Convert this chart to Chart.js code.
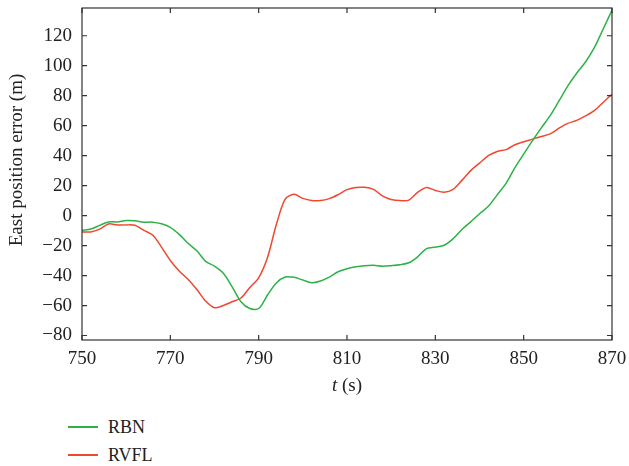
<!DOCTYPE html>
<html>
<head>
<meta charset="utf-8">
<script src="https://cdn.jsdelivr.net/npm/chart.js@4"></script>
<style>
  body { margin: 0; background: #fff; }
  #wrap { position: relative; width: 629px; height: 466px; }
  #myChart { position: absolute; left: 0; top: 0; }
  .legline { position: absolute; left: 68px; width: 30px; height: 1.5px; }
  .legtext { position: absolute; left: 108px; font: 18px "Liberation Serif", serif; color: #222; line-height: 20px; }
</style>
</head>
<body>
<div id="wrap">
  <canvas id="myChart" width="629" height="400"></canvas>
  <div class="legline" style="top:426px;background:rgb(44,178,70)"></div>
  <div class="legtext" style="top:417px">RBN</div>
  <div class="legline" style="top:454px;background:rgb(240,72,46)"></div>
  <div class="legtext" style="top:445px">RVFL</div>
</div>
<script>
// time stamps (s)
const times = [750,752,754,756,758,760,762,764,766,768,770,772,774,776,778,780,782,784,786,788,
790,792,794,796,798,800,802,804,806,808,810,812,814,816,818,820,822,824,826,828,
830,832,834,836,838,840,842,844,846,848,850,852,854,856,858,860,862,864,866,868,870];

// east position error (m)
const rbn = [-9.8,-9,-6.5,-4.2,-4.2,-3.3,-3.5,-4.4,-4.4,-5.5,-7.8,-12.5,-18.5,-23.5,-30.5,-33.7,-38.5,-47.5,-57.5,-62,
-62,-53,-45,-41,-41.2,-43,-44.8,-43.6,-41,-37.5,-35.4,-34.2,-33.4,-33.1,-33.8,-33.4,-32.8,-31.5,-27.5,-22,
-21,-19.8,-15.5,-9.3,-4.2,1.2,6.2,13.8,21.5,31.8,41,50,58.5,66.7,76.5,86.5,95,102.5,112,124.5,137];

const rvfl = [-10.9,-10.9,-9,-5.6,-6.2,-6.2,-6.5,-9.8,-13,-21,-30,-37,-42.5,-49.3,-57,-61.5,-60,-57.5,-55,-48,
-41.5,-28,-6,11,14.2,11.5,10.1,10,11.3,14,17.3,18.7,18.9,17.5,13.2,10.8,10,10.3,15.5,18.7,
16.8,15.6,17.5,23.5,30,35,40,42.8,44,47.3,49.3,51,52.8,54.5,58.3,61.5,63.5,66.5,70,75.5,81];

const xTicks = [750,770,790,810,830,850,870];
const yTicks = [-80,-60,-40,-20,0,20,40,60,80,100,120];

const FONT = '"Liberation Serif", serif';

function pts(vals) {
  return times.map((t, i) => ({x: t, y: vals[i]}));
}

// box, inward ticks on all four sides, axis titles
const frame = {
  id: 'frame',
  afterDraw(chart) {
    const ctx = chart.ctx;
    const a = chart.chartArea;
    const xs = chart.scales.x, ys = chart.scales.y;
    ctx.save();
    ctx.strokeStyle = '#333';
    ctx.lineWidth = 1.2;
    ctx.strokeRect(a.left, a.top, a.right - a.left, a.bottom - a.top);
    ctx.beginPath();
    xTicks.forEach(v => {
      const p = xs.getPixelForValue(v);
      ctx.moveTo(p, a.bottom); ctx.lineTo(p, a.bottom - 5);
      ctx.moveTo(p, a.top); ctx.lineTo(p, a.top + 5);
    });
    yTicks.forEach(v => {
      const p = ys.getPixelForValue(v);
      ctx.moveTo(a.left, p); ctx.lineTo(a.left + 5, p);
      ctx.moveTo(a.right, p); ctx.lineTo(a.right - 5, p);
    });
    ctx.stroke();

    ctx.fillStyle = '#222';
    ctx.textBaseline = 'middle';
    // x title, italic t
    const cx = (a.left + a.right) / 2;
    ctx.font = 'italic 19px ' + FONT;
    const w1 = ctx.measureText('t').width;
    ctx.font = '19px ' + FONT;
    const w2 = ctx.measureText(' (s)').width;
    const sx = cx - (w1 + w2) / 2;
    ctx.textAlign = 'left';
    ctx.font = 'italic 19px ' + FONT;
    ctx.fillText('t', sx, 386);
    ctx.font = '19px ' + FONT;
    ctx.fillText(' (s)', sx + w1, 386);
    // y title
    ctx.translate(17, 160);
    ctx.rotate(-Math.PI / 2);
    ctx.textAlign = 'center';
    ctx.font = '19px ' + FONT;
    ctx.fillText('East position error (m)', 0, 0);
    ctx.restore();
  }
};

const config = {
  type: 'line',
  data: {
    datasets: [
      { label: 'RBN', data: pts(rbn), borderColor: 'rgb(44,178,70)', borderWidth: 1.5, pointRadius: 0, tension: 0.3, fill: false },
      { label: 'RVFL', data: pts(rvfl), borderColor: 'rgb(240,72,46)', borderWidth: 1.5, pointRadius: 0, tension: 0.3, fill: false }
    ]
  },
  options: {
    responsive: false,
    animation: false,
    layout: { padding: { top: 8, right: 17, left: 0, bottom: 0 } },
    plugins: { legend: { display: false }, tooltip: { enabled: false } },
    scales: {
      x: {
        type: 'linear', min: 750, max: 870,
        afterBuildTicks: s => { s.ticks = xTicks.map(v => ({value: v})); },
        afterFit: s => { s.height = 60; s.paddingLeft = 0; s.paddingRight = 0; },
        grid: { display: false, drawTicks: false },
        border: { display: false },
        ticks: { color: '#222', font: { family: FONT, size: 19 }, padding: 8, maxRotation: 0 }
      },
      y: {
        min: -83, max: 138.5,
        afterBuildTicks: s => { s.ticks = yTicks.map(v => ({value: v})); },
        afterFit: s => { s.width = 82; s.paddingTop = 0; s.paddingBottom = 0; },
        grid: { display: false, drawTicks: false },
        border: { display: false },
        ticks: { color: '#222', font: { family: FONT, size: 19 }, padding: 10,
                 callback: v => String(v).replace('-', '\u2212') }
      }
    }
  },
  plugins: [frame]
};

const myChart = new Chart(document.getElementById('myChart'), config);
</script>
</body>
</html>
